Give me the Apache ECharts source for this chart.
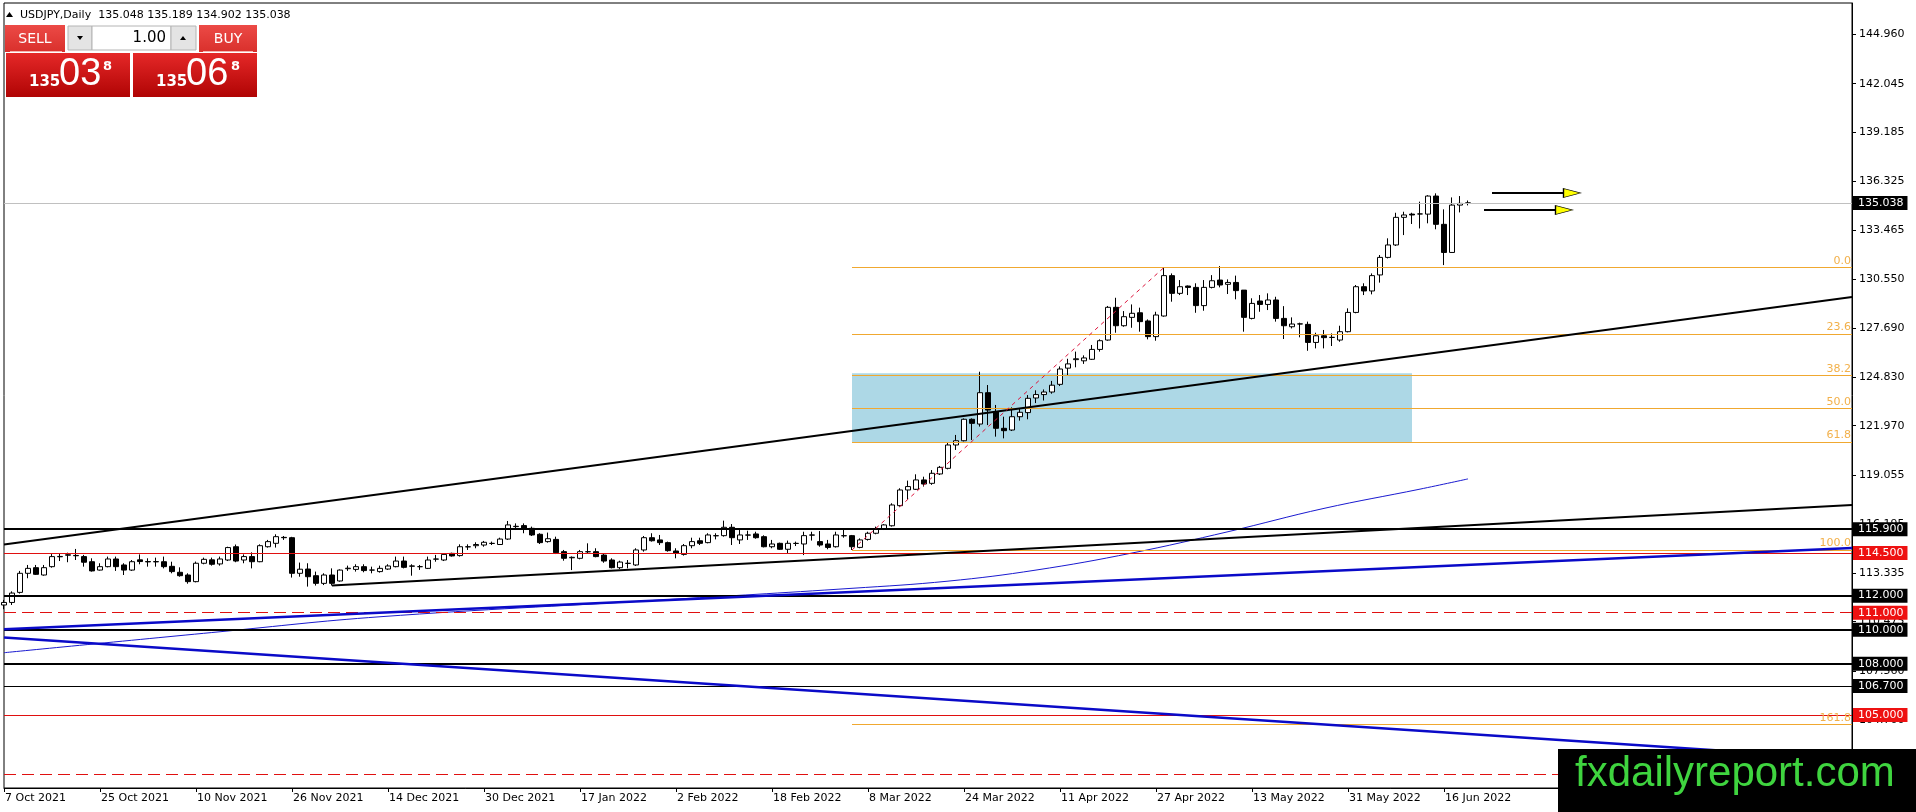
<!DOCTYPE html>
<html>
<head>
<meta charset="utf-8">
<title>USDJPY,Daily</title>
<script src="https://cdn.jsdelivr.net/npm/echarts@6/dist/echarts.min.js"></script>
<style>
html, body { margin: 0; padding: 0; background: #fff; }
#chart { width: 1916px; height: 812px; }
</style>
</head>
<body>
<div id="chart"></div>
<script>
// date labels, one every 12 daily bars starting at bar 0 (7 Oct 2021)
var tickLabels = ['7 Oct 2021', '25 Oct 2021', '10 Nov 2021', '26 Nov 2021', '14 Dec 2021', '30 Dec 2021',
    '17 Jan 2022', '2 Feb 2022', '18 Feb 2022', '8 Mar 2022', '24 Mar 2022', '11 Apr 2022',
    '27 Apr 2022', '13 May 2022', '31 May 2022', '16 Jun 2022'];

// right price scale labels
var yTicks = [144.960, 142.045, 139.185, 136.325, 133.465, 130.550, 127.690, 124.830,
    121.970, 119.055, 116.195, 113.335, 110.475, 107.560, 104.700, 101.840];

// daily bars: open, high, low, close
var bars = [
    [111.45,111.75,111.20,111.60],[111.60,112.25,111.45,112.15],[112.19,113.45,112.12,113.31],[113.31,113.80,113.02,113.60],
    [113.64,113.80,113.21,113.25],[113.21,113.80,113.17,113.64],[113.70,114.44,113.64,114.29],[114.28,114.48,114.03,114.30],
    [114.37,114.52,113.96,114.40],[114.36,114.74,114.09,114.34],[114.29,114.39,113.70,113.96],[113.99,114.19,113.41,113.45],
    [113.50,113.90,113.47,113.70],[113.70,114.29,113.66,114.15],[114.15,114.29,113.45,113.70],[113.80,113.90,113.21,113.50],
    [113.50,114.09,113.45,113.99],[114.10,114.42,113.84,114.00],[114.00,114.19,113.70,113.98],[113.98,114.23,113.70,114.00],
    [113.99,114.29,113.60,113.70],[113.72,113.99,113.31,113.41],[113.37,113.66,113.11,113.17],[113.21,113.31,112.70,112.82],
    [112.82,114.00,112.78,113.90],[113.90,114.23,113.84,114.13],[114.10,114.23,113.76,113.84],[113.86,114.29,113.76,114.15],
    [114.09,114.87,114.03,114.82],[114.87,115.00,113.96,114.03],[114.09,114.42,113.90,114.29],[114.29,114.54,113.60,113.99],
    [113.99,115.01,113.96,114.93],[114.87,115.27,114.82,115.17],[115.07,115.60,114.82,115.46],[115.42,115.50,115.27,115.40],
    [115.40,115.45,113.06,113.31],[113.31,113.94,113.11,113.55],[113.56,113.90,112.53,113.11],[113.17,113.41,112.59,112.72],
    [112.72,113.31,112.62,113.21],[113.21,113.60,112.59,112.72],[112.86,113.54,112.82,113.50],[113.58,113.76,113.45,113.61],
    [113.54,113.84,113.41,113.70],[113.70,113.84,113.37,113.47],[113.50,113.70,113.31,113.50],[113.41,113.76,113.35,113.60],
    [113.56,113.84,113.51,113.74],[113.70,114.29,113.66,114.03],[114.03,114.29,113.60,113.66],[113.74,113.84,113.17,113.73],
    [113.70,113.80,113.51,113.70],[113.60,114.29,113.56,114.09],[114.14,114.39,113.99,114.15],[114.09,114.48,114.03,114.42],
    [114.48,114.52,114.29,114.33],[114.35,115.01,114.29,114.87],[114.86,115.01,114.68,114.87],[114.93,115.13,114.78,115.00],
    [114.97,115.21,114.87,115.13],[115.06,115.17,114.97,115.07],[115.00,115.40,114.97,115.32],[115.32,116.38,115.27,116.15],
    [116.07,116.24,115.85,116.05],[116.11,116.24,115.66,115.89],[115.95,116.05,115.50,115.56],[115.60,115.66,115.03,115.11],
    [115.17,115.70,115.11,115.34],[115.30,115.46,114.44,114.52],[114.58,114.68,114.05,114.19],[114.22,114.30,113.50,114.25],
    [114.19,114.68,114.13,114.58],[114.57,115.07,114.48,114.58],[114.58,114.78,114.25,114.29],[114.38,114.48,113.93,114.03],
    [114.09,114.19,113.60,113.64],[113.64,114.05,113.56,113.97],[113.89,114.09,113.60,113.90],[113.80,114.78,113.74,114.68],
    [114.68,115.50,114.58,115.40],[115.40,115.66,115.17,115.22],[115.27,115.56,114.97,115.11],[115.11,115.17,114.58,114.64],
    [114.62,114.78,114.19,114.48],[114.42,115.03,114.35,114.93],[114.93,115.40,114.78,115.17],[115.22,115.40,114.97,115.07],
    [115.11,115.66,115.07,115.56],[115.51,115.66,115.30,115.52],[115.52,116.40,115.46,116.01],[116.01,116.20,114.97,115.40],
    [115.27,115.85,115.03,115.56],[115.55,115.81,115.27,115.56],[115.62,115.75,115.34,115.40],[115.46,115.54,114.83,114.87],
    [114.87,115.27,114.78,115.03],[115.07,115.11,114.68,114.72],[114.72,115.23,114.48,115.07],[115.06,115.17,114.91,115.07],
    [115.03,115.75,114.38,115.52],[115.55,115.75,115.23,115.56],[115.17,115.79,114.87,114.97],[115.03,115.27,114.72,114.83],
    [114.87,115.75,114.82,115.56],[115.51,115.89,115.40,115.52],[115.52,115.56,114.68,114.87],[114.83,115.36,114.78,115.27],
    [115.30,115.75,115.23,115.66],[115.66,116.05,115.60,115.90],[115.90,116.20,115.85,116.15],[116.10,117.42,116.05,117.32],
    [117.28,118.30,117.22,118.20],[118.20,118.75,117.65,118.40],[118.24,119.12,118.20,118.79],[118.79,118.98,118.40,118.55],
    [118.59,119.37,118.50,119.18],[119.14,119.61,119.08,119.53],[119.47,120.98,119.41,120.84],[120.84,121.43,120.55,121.09],
    [121.09,122.40,121.05,122.35],[122.35,122.40,121.13,122.11],[122.07,125.14,121.92,123.91],[123.91,124.36,122.01,122.89],
    [122.80,123.19,121.33,121.82],[121.82,122.50,121.23,121.68],[121.72,123.05,121.66,122.50],[122.50,122.99,122.27,122.76],
    [122.74,123.77,122.35,123.58],[123.60,124.05,123.30,123.80],[123.80,124.10,123.45,123.95],[123.95,124.60,123.85,124.35],
    [124.40,125.45,124.30,125.30],[125.35,125.90,124.90,125.60],[125.85,126.32,125.40,125.90],[125.78,126.10,125.60,125.95],
    [125.87,126.71,125.83,126.45],[126.45,127.04,126.32,126.96],[127.00,129.00,126.96,128.92],[128.92,129.48,127.43,127.84],
    [127.84,128.70,127.78,128.37],[128.33,129.09,127.72,128.57],[128.60,128.90,127.49,128.08],[128.12,128.21,127.04,127.20],
    [127.20,128.66,126.96,128.47],[128.41,131.26,128.37,130.78],[130.78,130.91,129.25,129.74],[129.74,130.52,129.64,130.13],
    [130.17,130.20,129.64,130.09],[130.09,130.33,128.60,129.02],[129.02,130.52,128.72,130.09],[130.09,130.81,130.03,130.48],
    [130.52,131.34,130.09,130.23],[130.27,130.56,129.70,130.38],[130.38,130.78,129.39,129.90],[129.93,129.93,127.49,128.33],
    [128.27,129.45,128.21,129.15],[129.29,129.64,128.66,129.09],[129.09,129.74,128.76,129.35],[129.35,129.54,128.08,128.27],
    [128.27,128.99,127.06,127.84],[127.78,128.33,127.68,127.94],[127.94,128.02,127.16,127.95],[127.92,128.08,126.37,126.86],
    [126.86,127.43,126.51,127.25],[127.25,127.59,126.51,127.14],[127.15,127.39,126.65,127.16],[127.00,127.84,126.90,127.49],
    [127.49,128.86,127.45,128.62],[128.62,130.23,128.57,130.13],[130.13,130.33,129.64,129.88],[129.88,130.91,129.68,130.78],
    [130.82,131.99,130.37,131.85],[131.85,132.97,131.79,132.58],[132.58,134.47,132.52,134.20],[134.20,134.53,133.16,134.34],
    [134.39,134.47,133.81,134.34],[134.40,135.12,133.55,134.40],[134.39,135.50,133.85,135.45],[135.45,135.61,133.50,133.79],
    [133.79,134.67,131.40,132.14],[132.14,135.37,132.13,134.92],[134.92,135.45,134.49,135.02],[135.048,135.189,134.902,135.038]
];

// moving average read at a few bars [bar, value]
var maPoints = [[0,108.65],[27,109.88],[47,110.76],[82,111.74],[106,112.43],[118,112.85],
    [129,113.50],[141,114.50],[153,115.75],[165,117.12],[177,118.25],[183,118.85]];

// drawn objects [bar, price]
var upperTrend = [[0,115.00],[231,129.52]];
var lowerTrend = [[41,112.59],[231,117.32]];
var blueRising = [[0,110.03],[231,114.80]];
var blueFalling = [[0,109.54],[231,102.40]];
var fibAnchors = [[106,114.68],[145,131.26]];
var fibRatios = [0, 23.6, 38.2, 50, 61.8, 100, 161.8];
var zoneBox = [[106,125.05],[176,120.95]];
var arrowUpper = [[186,135.63],[196,135.63]];
var arrowLower = [[185,134.63],[195,134.63]];

// horizontal levels
var blackLevels = [115.9, 112.0, 110.0, 108.0];
var thinBlackLevels = [106.7];
var redLevels = [114.5, 105.0];
var redDashLevels = [111.0, 101.5];
var bidPrice = 135.038;
var askPrice = 135.068;

var slotCount = 232;
var FONT = 'DejaVu Sans';

var categories = [];
for (var i = 0; i < slotCount; i++) categories.push(String(i));

var candleData = bars.map(function (b) { return [b[0], b[3], b[2], b[1]]; });

function levelItem(v, color, width, dash, box) {
    return {
        yAxis: v,
        lineStyle: { color: color, width: width, type: dash },
        label: box ? {
            show: true, position: 'end', distance: 1, formatter: v.toFixed(3),
            color: '#fff', backgroundColor: box, padding: [2, 4, 1, 5],
            fontFamily: FONT, fontSize: 11
        } : { show: false }
    };
}

var levelData = [];
blackLevels.forEach(function (v) { levelData.push(levelItem(v, '#000', 2, 'solid', '#000')); });
thinBlackLevels.forEach(function (v) { levelData.push(levelItem(v, '#000', 1, 'solid', '#000')); });
redLevels.forEach(function (v) { levelData.push(levelItem(v, '#e01010', 1, 'solid', '#ee1111')); });
redDashLevels.forEach(function (v, k) { levelData.push(levelItem(v, '#e01010', 1, [12, 6], k === 0 ? '#ee1111' : null)); });
levelData.push(levelItem(bidPrice, '#c0c0c0', 1, 'solid', '#000'));

var fibLow = fibAnchors[0][1], fibHigh = fibAnchors[1][1];
var fibData = fibRatios.map(function (r) {
    var v = fibHigh - r / 100 * (fibHigh - fibLow);
    return [
        { coord: [fibAnchors[0][0], v], label: { formatter: r.toFixed(1) } },
        { coord: [slotCount - 1, v] }
    ];
});

function lineSeries(data, color, width, dash, z, smooth) {
    return {
        type: 'line', data: data, showSymbol: false, silent: true, z: z, smooth: smooth || false,
        lineStyle: { color: color, width: width, type: dash || 'solid' }
    };
}

function priceParts(p) {
    var s = p.toFixed(3);
    return { big: s.slice(0, 3), mid: s.slice(4, 6), pip: s.slice(6) };
}

var last = bars[bars.length - 1];
var headerText = 'USDJPY,Daily  ' + last.map(function (v) { return v.toFixed(3); }).join(' ');
var sellP = priceParts(bidPrice), buyP = priceParts(askPrice);

var redGrad = { type: 'linear', x: 0, y: 0, x2: 0, y2: 1,
    colorStops: [{ offset: 0, color: '#e52828' }, { offset: 1, color: '#b00404' }] };
var btnGrad = { type: 'linear', x: 0, y: 0, x2: 0, y2: 1,
    colorStops: [{ offset: 0, color: '#ec4a46' }, { offset: 1, color: '#d9302c' }] };

function txt(x, y, s, size, color, align, weight, family) {
    return { type: 'text', x: x, y: y, z: 100, silent: true,
        style: { text: s, fill: color, fontSize: size, fontFamily: family || FONT,
            fontWeight: weight || 'normal', align: align || 'left', verticalAlign: 'middle' } };
}

var graphics = [
    { type: 'polygon', z: 100, shape: { points: [[6, 17], [13, 17], [9.5, 12]] }, style: { fill: '#000' } },
    txt(20, 15, headerText, 11, '#000'),
    // sell / buy panel
    { type: 'rect', z: 100, shape: { x: 5, y: 25, width: 60, height: 27 }, style: { fill: btnGrad } },
    { type: 'line', z: 101, shape: { x1: 10, y1: 51.5, x2: 62, y2: 51.5 }, style: { stroke: '#f5b3b0', lineWidth: 1 } },
    txt(35, 39, 'SELL', 14, '#fff', 'center'),
    { type: 'rect', z: 100, shape: { x: 68, y: 26, width: 24, height: 24 }, style: { fill: '#e4e4e4', stroke: '#b4b4b4' } },
    { type: 'polygon', z: 101, shape: { points: [[77, 36], [83, 36], [80, 40]] }, style: { fill: '#000' } },
    { type: 'rect', z: 100, shape: { x: 92, y: 26, width: 79, height: 24 }, style: { fill: '#fff', stroke: '#b4b4b4' } },
    txt(166, 38, '1.00', 15, '#000', 'right'),
    { type: 'rect', z: 100, shape: { x: 171, y: 26, width: 25, height: 24 }, style: { fill: '#e4e4e4', stroke: '#b4b4b4' } },
    { type: 'polygon', z: 101, shape: { points: [[180, 40], [186, 40], [183, 36]] }, style: { fill: '#000' } },
    { type: 'rect', z: 100, shape: { x: 199, y: 25, width: 58, height: 27 }, style: { fill: btnGrad } },
    { type: 'line', z: 101, shape: { x1: 203, y1: 51.5, x2: 253, y2: 51.5 }, style: { stroke: '#f5b3b0', lineWidth: 1 } },
    txt(228, 39, 'BUY', 14, '#fff', 'center'),
    { type: 'rect', z: 100, shape: { x: 6, y: 53, width: 124, height: 44 }, style: { fill: redGrad } },
    { type: 'rect', z: 100, shape: { x: 133, y: 53, width: 124, height: 44 }, style: { fill: redGrad } },
    txt(29, 82, sellP.big, 15, '#fff', 'left', 'bold'),
    txt(59, 75, sellP.mid, 38, '#fff', 'left', 'normal', 'Liberation Sans'),
    txt(103, 67, sellP.pip, 13, '#fff', 'left', 'bold'),
    txt(156, 82, buyP.big, 15, '#fff', 'left', 'bold'),
    txt(186, 75, buyP.mid, 38, '#fff', 'left', 'normal', 'Liberation Sans'),
    txt(231, 67, buyP.pip, 13, '#fff', 'left', 'bold'),
    // watermark
    { type: 'rect', z: 110, shape: { x: 1558, y: 749, width: 358, height: 63 }, style: { fill: '#000' } },
    { type: 'text', z: 111, x: 1575, y: 774, style: { text: 'fxdailyreport.com', fill: '#3fd43f',
        fontSize: 42, fontFamily: 'Liberation Sans', verticalAlign: 'middle' } }
];

var option = {
    animation: false,
    backgroundColor: '#fff',
    grid: { left: 4, right: 64, top: 3, bottom: 24, show: true, borderColor: '#000', borderWidth: 1, backgroundColor: '#fff' },
    xAxis: {
        type: 'category', data: categories, boundaryGap: false,
        axisLine: { lineStyle: { color: '#000', width: 1 } },
        axisTick: { length: 4, lineStyle: { color: '#000' },
            interval: function (idx) { return idx % 12 === 0 && idx / 12 < tickLabels.length; } },
        axisLabel: {
            interval: function (idx) { return idx % 12 === 0 && idx / 12 < tickLabels.length; },
            formatter: function (val, idx) { return tickLabels[idx / 12] || ''; },
            align: 'left', margin: 5, color: '#000', fontSize: 11, fontFamily: FONT, padding: [0, 0, 0, 1]
        },
        splitLine: { show: false }
    },
    yAxis: {
        type: 'value', position: 'right', min: 100.71, max: 146.78, scale: true,
        splitLine: { show: false },
        axisLine: { show: true, lineStyle: { color: '#000' } },
        axisTick: { show: true, length: 4, customValues: yTicks, lineStyle: { color: '#000' } },
        axisLabel: { customValues: yTicks, formatter: function (v) { return v.toFixed(3); },
            margin: 7, color: '#000', fontSize: 11, fontFamily: FONT }
    },
    series: [
        {
            type: 'line', data: [], z: 1, silent: true,
            markArea: { silent: true, itemStyle: { color: '#add8e6' },
                data: [[{ coord: zoneBox[0] }, { coord: zoneBox[1] }]] }
        },
        {
            type: 'line', data: [], z: 2, silent: true,
            markLine: { silent: true, symbol: ['none', 'none'], precision: 3, animation: false, data: levelData }
        },
        {
            type: 'line', data: [], z: 2, silent: true,
            markLine: { silent: true, symbol: ['none', 'none'], precision: 3, animation: false,
                lineStyle: { color: '#f0a830', width: 1, type: 'solid' },
                label: { show: true, position: 'insideEndTop', distance: 1, color: '#f2b04a', fontSize: 11, fontFamily: FONT },
                data: fibData }
        },
        lineSeries(maPoints, '#1a1ad0', 1, 'solid', 3, 0.4),
        {
            type: 'candlestick', data: candleData, barWidth: 5, z: 4, silent: true,
            itemStyle: { color: '#fff', color0: '#000', borderColor: '#000', borderColor0: '#000', borderWidth: 1 }
        },
        lineSeries(upperTrend, '#000', 2, 'solid', 5),
        lineSeries(lowerTrend, '#000', 2, 'solid', 5),
        lineSeries(blueRising, '#0a0ac8', 2.5, 'solid', 5),
        lineSeries(blueFalling, '#0a0ac8', 2.5, 'solid', 5),
        lineSeries(fibAnchors, '#dc143c', 1, [4, 4], 5),
        lineSeries(arrowUpper, '#000', 2, 'solid', 6),
        lineSeries(arrowLower, '#000', 2, 'solid', 6),
        {
            type: 'scatter', z: 7, silent: true, symbol: 'triangle', symbolRotate: -90, symbolSize: [9, 17],
            data: [arrowUpper[1], arrowLower[1]],
            itemStyle: { color: '#ffff00', borderColor: '#000', borderWidth: 1, opacity: 1 }
        }
    ],
    graphic: graphics
};

var chart = echarts.init(document.getElementById('chart'));
chart.setOption(option);
window.addEventListener('resize', function () { chart.resize(); });
</script>
</body>
</html>
